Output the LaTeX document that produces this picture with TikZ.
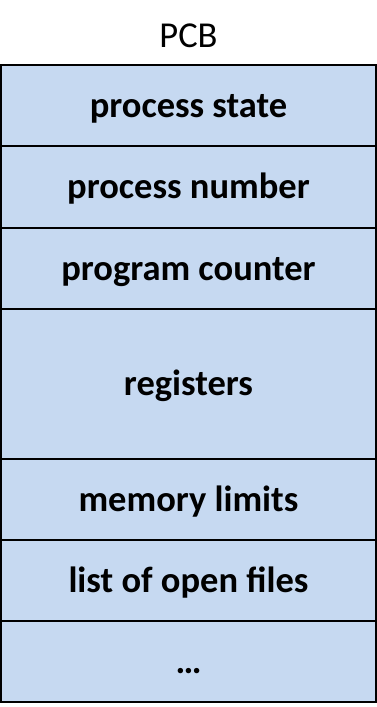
\documentclass[tikz,border=0pt]{standalone}
\usepackage{fontspec}
\setmainfont{Carlito}
\definecolor{cellblue}{HTML}{C6D9F1}
\begin{document}
\begin{tikzpicture}[x=1pt,y=-1pt,
  cell/.style={draw=black, line width=2pt, fill=cellblue, minimum width=375pt,
    inner sep=0pt, text height=26pt, text depth=3pt,
    font=\fontsize{36.5}{40}\selectfont\bfseries},
  title/.style={inner sep=0pt, anchor=base, font=\fontsize{36.5}{40}\selectfont}]
\useasboundingbox (0,0) rectangle (377,707);
\node[title] (pcb) at (188.5,47) {PCB};
\node[cell, minimum height=81pt]  (r1) at (188.5,105.5) {process state};
\node[cell, minimum height=82pt]  (r2) at (188.5,187)   {process number};
\node[cell, minimum height=81pt]  (r3) at (188.5,268.5) {program counter};
\node[cell, minimum height=150pt] (r4) at (188.5,384)   {registers};
\node[cell, minimum height=81pt]  (r5) at (188.5,499.5) {memory limits};
\node[cell, minimum height=81pt]  (r6) at (188.5,580.5) {list of open files};
\node[cell, minimum height=81pt]  (r7) at (188.5,661.5) {…};
\end{tikzpicture}
\end{document}
